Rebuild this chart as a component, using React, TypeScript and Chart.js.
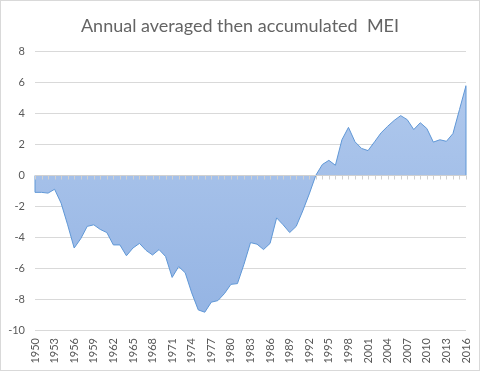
import React, { useEffect, useRef } from "react";
import { Chart, registerables } from "chart.js";

Chart.register(...registerables);

const years: number[] = [];
for (let yr = 1950; yr <= 2016; yr++) years.push(yr);

const meiValues: number[] = [
  -1.1, -1.1, -1.15, -0.9, -1.8, -3.2, -4.7, -4.1, -3.3, -3.2,
  -3.5, -3.7, -4.5, -4.5, -5.2, -4.7, -4.4, -4.85, -5.15, -4.8,
  -5.25, -6.6, -5.9, -6.3, -7.6, -8.7, -8.85, -8.2, -8.1, -7.65,
  -7.05, -7.0, -5.75, -4.35, -4.45, -4.8, -4.4, -2.75, -3.2, -3.7,
  -3.3, -2.3, -1.2, 0.0, 0.7, 0.97, 0.65, 2.3, 3.1, 2.17,
  1.74, 1.6, 2.17, 2.75, 3.17, 3.55, 3.86, 3.6, 2.96, 3.4,
  3.03, 2.15, 2.3, 2.2, 2.7, 4.25, 5.8,
];

const yMin = -10;
const yMax = 8;
const yStep = 2;
const xLabelStep = 3;
const titleText = "Annual averaged then accumulated  MEI";

const FONT = "Lato, 'Open Sans', sans-serif";
const TEXT = "#595959";
const TITLE = "#646464";
const GRID = "#D9D9D9";
const LINE = "#5F97D6";

const framePlugin = {
  id: "frame",
  beforeDraw(chart: any) {
    const { ctx, width, height } = chart;
    ctx.save();
    ctx.fillStyle = "#ffffff";
    ctx.fillRect(0, 0, width, height);
    ctx.strokeStyle = "#D9D9D9";
    ctx.lineWidth = 1;
    ctx.strokeRect(0.5, 0.5, width - 1, height - 1);
    ctx.restore();
  },
  afterDatasetsDraw(chart: any) {
    const { ctx } = chart;
    const x = chart.scales.x;
    const y = chart.scales.y;
    const y0 = Math.round(y.getPixelForValue(0)) + 0.5;
    ctx.save();
    ctx.lineWidth = 1;
    ctx.strokeStyle = LINE;
    ctx.beginPath();
    const xl = x.getPixelForValue(years[0]);
    const xr = x.getPixelForValue(years[years.length - 1]);
    ctx.moveTo(xl, y0);
    ctx.lineTo(xl, y.getPixelForValue(meiValues[0]));
    ctx.moveTo(xr, y0);
    ctx.lineTo(xr, y.getPixelForValue(meiValues[meiValues.length - 1]));
    ctx.stroke();
    ctx.strokeStyle = "#D0D0D0";
    ctx.beginPath();
    ctx.moveTo(x.left, y0);
    ctx.lineTo(x.right, y0);
    for (const yr of years) {
      const px = Math.round(x.getPixelForValue(yr)) + 0.5;
      ctx.moveTo(px, y0);
      ctx.lineTo(px, y0 + 4);
    }
    ctx.stroke();
    ctx.restore();
  },
};

export default function App() {
  const ref = useRef<HTMLCanvasElement | null>(null);

  useEffect(() => {
    if (!ref.current) return;
    const data = years.map((yr, i) => ({ x: yr, y: meiValues[i] }));
    const chart = new Chart(ref.current, {
      type: "line",
      data: {
        datasets: [
          {
            data,
            borderColor: LINE,
            borderWidth: 1,
            pointRadius: 0,
            tension: 0,
            fill: "origin",
            backgroundColor: (c: any) => {
              const area = c.chart.chartArea;
              if (!area) return "#A3BFE8";
              const g = c.chart.ctx.createLinearGradient(0, area.top, 0, area.bottom);
              g.addColorStop(0, "#B3CBEE");
              g.addColorStop(1, "#93B3E3");
              return g;
            },
          },
        ],
      },
      options: {
        responsive: false,
        animation: false,
        layout: { padding: 0 },
        plugins: {
          legend: { display: false },
          tooltip: { enabled: false },
          title: {
            display: true,
            text: titleText,
            color: TITLE,
            font: { family: FONT, size: 18, weight: "normal" },
            padding: { top: 15, bottom: 15 },
          },
        },
        scales: {
          x: {
            type: "linear",
            min: years[0],
            max: years[years.length - 1],
            grid: { display: false, drawTicks: false },
            border: { display: false },
            afterFit: (s: any) => {
              s.height = 41;
              s.paddingLeft = 0;
              s.paddingRight = 0;
            },
            ticks: {
              stepSize: xLabelStep,
              autoSkip: false,
              maxRotation: 90,
              minRotation: 90,
              padding: 8,
              color: TEXT,
              font: { family: FONT, size: 11 },
              callback: (v: any) => String(v),
            },
          },
          y: {
            min: yMin,
            max: yMax,
            grid: { color: GRID, drawTicks: false },
            border: { display: false },
            afterFit: (s: any) => {
              s.width = 35;
            },
            ticks: {
              stepSize: yStep,
              padding: 10,
              color: TEXT,
              font: { family: FONT, size: 11 },
            },
          },
          yRight: {
            position: "right",
            min: yMin,
            max: yMax,
            grid: { display: false, drawTicks: false },
            border: { display: false },
            ticks: { display: false },
            afterFit: (s: any) => {
              s.width = 14;
            },
          },
        },
      },
      plugins: [framePlugin],
    });
    return () => chart.destroy();
  }, []);

  return (
    <div style={{ position: "fixed", left: 0, top: 0, width: 480, height: 371 }}>
      <canvas ref={ref} width={480} height={371} style={{ display: "block" }} />
    </div>
  );
}
